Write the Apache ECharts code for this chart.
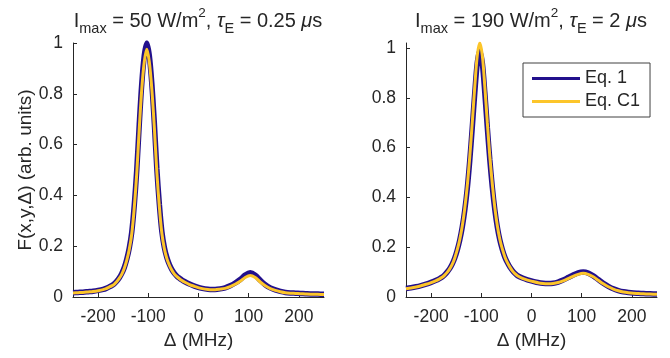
<!DOCTYPE html>
<html>
<head>
<meta charset="utf-8">
<script src="https://cdn.jsdelivr.net/npm/echarts@6.0.0/dist/echarts.min.js"></script>
<style>
  html, body { margin: 0; padding: 0; background: #fff; }
  #chart { width: 670px; height: 358px; }
</style>
</head>
<body>
<div id="chart"></div>
<script>
// detuning grid (MHz), shared by all four curves
const detuning = [-250, -240, -230, -220, -210, -200, -190, -184,
  -178, -173, -168, -163, -158, -153, -148, -143, -138, -133, -128, -123, -118, -113, -108, -103,
  -98, -93, -88, -83, -78, -73, -68, -63, -58, -53, -48, -43, -38, -33, -28,
  -18, -8, 3, 13, 23, 33, 43, 53, 63, 73, 83, 93, 103, 113, 123, 133, 143, 153, 163, 173, 183,
  193, 203, 213, 223, 233, 243, 250];

// left panel: Imax = 50 W/m^2, tauE = 0.25 us
const leftEq1 = [0.017, 0.018, 0.019, 0.021, 0.023, 0.026, 0.030, 0.034,
  0.040, 0.045, 0.052, 0.062, 0.075, 0.092, 0.115, 0.148, 0.192, 0.255, 0.360, 0.500, 0.680, 0.840, 0.950, 1.000,
  0.950, 0.840, 0.685, 0.505, 0.365, 0.258, 0.195, 0.155, 0.128, 0.108, 0.093, 0.082, 0.074, 0.067, 0.061,
  0.051, 0.043, 0.036, 0.032, 0.030, 0.030, 0.032, 0.036, 0.044, 0.055, 0.069, 0.086, 0.095, 0.086, 0.066, 0.048, 0.036, 0.028, 0.022, 0.018, 0.016,
  0.015, 0.014, 0.013, 0.012, 0.012, 0.011, 0.011];
const leftEqC1 = [0.016, 0.017, 0.018, 0.020, 0.022, 0.025, 0.029, 0.033,
  0.039, 0.044, 0.050, 0.060, 0.073, 0.089, 0.112, 0.144, 0.187, 0.248, 0.351, 0.487, 0.663, 0.819, 0.926, 0.975,
  0.926, 0.819, 0.668, 0.492, 0.356, 0.251, 0.190, 0.151, 0.125, 0.105, 0.090, 0.080, 0.072, 0.065, 0.059,
  0.049, 0.042, 0.035, 0.031, 0.029, 0.029, 0.031, 0.034, 0.041, 0.050, 0.062, 0.077, 0.085, 0.077, 0.059, 0.044, 0.033, 0.026, 0.021, 0.017, 0.015,
  0.014, 0.013, 0.012, 0.011, 0.011, 0.010, 0.010];

// right panel: Imax = 190 W/m^2, tauE = 2 us
const rightEq1 = [0.034, 0.037, 0.041, 0.046, 0.052, 0.059, 0.067, 0.073,
  0.080, 0.089, 0.100, 0.114, 0.132, 0.156, 0.188, 0.228, 0.280, 0.348, 0.435, 0.548, 0.680, 0.820, 0.940, 0.990,
  0.940, 0.820, 0.680, 0.550, 0.440, 0.350, 0.280, 0.228, 0.190, 0.160, 0.138, 0.120, 0.106, 0.095, 0.086,
  0.076, 0.069, 0.063, 0.058, 0.055, 0.054, 0.055, 0.060, 0.068, 0.078, 0.088, 0.097, 0.100, 0.096, 0.085, 0.070, 0.055, 0.043, 0.033, 0.026, 0.021,
  0.018, 0.016, 0.015, 0.014, 0.013, 0.012, 0.012];
const rightEqC1 = [0.033, 0.036, 0.040, 0.045, 0.051, 0.058, 0.066, 0.072,
  0.079, 0.088, 0.099, 0.113, 0.131, 0.156, 0.189, 0.230, 0.284, 0.355, 0.446, 0.563, 0.700, 0.845, 0.970, 1.020,
  0.970, 0.845, 0.700, 0.565, 0.452, 0.358, 0.285, 0.231, 0.192, 0.161, 0.138, 0.120, 0.105, 0.094, 0.085,
  0.075, 0.068, 0.062, 0.057, 0.054, 0.053, 0.054, 0.058, 0.065, 0.074, 0.083, 0.091, 0.095, 0.091, 0.081, 0.067, 0.053, 0.041, 0.032, 0.025, 0.020,
  0.017, 0.015, 0.014, 0.013, 0.012, 0.011, 0.011];

const xTicks = [-200, -100, 0, 100, 200];
const yTicks = [0, 0.2, 0.4, 0.6, 0.8, 1];
const seriesNames = ["Eq. 1", "Eq. C1"];

const FONT = "'Liberation Sans', Arial, Helvetica, sans-serif";
const INK = "#262626";
const BLUE = "#22108c";
const YELLOW = "#fcc52a";

const pairs = (ys) => detuning.map((d, i) => [d, ys[i]]);

const titleRich = {
  n: { fontSize: 20, fontFamily: FONT, fontWeight: "normal", color: INK, lineHeight: 30 },
  it: { fontSize: 20, fontFamily: FONT, fontWeight: "normal", color: INK, lineHeight: 30, fontStyle: "italic" },
  sub: { fontSize: 14.5, fontFamily: FONT, fontWeight: "normal", color: INK, lineHeight: 16, verticalAlign: "bottom" },
  sup: { fontSize: 13.5, fontFamily: FONT, fontWeight: "normal", color: INK, lineHeight: 20, verticalAlign: "top" },
};

function xAxisFor(gridIndex) {
  return {
    type: "value",
    gridIndex,
    min: -250,
    max: 250,
    name: "Δ (MHz)",
    nameLocation: "middle",
    nameGap: 33,
    nameTextStyle: { fontSize: 19, fontFamily: FONT, color: INK },
    axisLine: { onZero: false, lineStyle: { color: INK, width: 1 } },
    axisTick: { inside: true, length: 4, customValues: xTicks, lineStyle: { color: INK } },
    axisLabel: { customValues: xTicks, margin: 11, fontSize: 17.5, fontFamily: FONT, color: INK },
    splitLine: { show: false },
  };
}

function yAxisFor(gridIndex, max, name) {
  return {
    type: "value",
    gridIndex,
    min: 0,
    max,
    name,
    nameLocation: "middle",
    nameGap: 29,
    nameTextStyle: { fontSize: 19, fontFamily: FONT, color: INK },
    axisLine: { show: true, onZero: false, lineStyle: { color: INK, width: 1 } },
    axisTick: { show: true, inside: true, length: 4, customValues: yTicks, lineStyle: { color: INK } },
    axisLabel: { customValues: yTicks, margin: 10, fontSize: 17.5, fontFamily: FONT, color: INK },
    splitLine: { show: false },
  };
}

function lineSeries(name, ys, axisIndex, color, width) {
  return {
    name,
    type: "line",
    xAxisIndex: axisIndex,
    yAxisIndex: axisIndex,
    data: pairs(ys),
    smooth: 0.3,
    symbol: "none",
    color,
    lineStyle: { color, width },
    animation: false,
  };
}

const chart = echarts.init(document.getElementById("chart"));

chart.setOption({
  backgroundColor: "#fff",
  animation: false,
  title: [
    {
      text: "{n|I}{sub|max}{n| = 50 W/m}{sup|2}{n|, }{it|τ}{sub|E}{n| = 0.25 }{it|μ}{n|s}",
      left: 198, top: 6, padding: 0, textAlign: "center",
      textStyle: { fontWeight: "normal", rich: titleRich },
    },
    {
      text: "{n|I}{sub|max}{n| = 190 W/m}{sup|2}{n|, }{it|τ}{sub|E}{n| = 2 }{it|μ}{n|s}",
      left: 531, top: 6, padding: 0, textAlign: "center",
      textStyle: { fontWeight: "normal", rich: titleRich },
    },
  ],
  grid: [
    { left: 73, top: 43, width: 251, height: 254 },
    { left: 406, top: 43, width: 251, height: 254 },
  ],
  xAxis: [xAxisFor(0), xAxisFor(1)],
  yAxis: [yAxisFor(0, 1, "F(x,y,Δ) (arb. units)"), yAxisFor(1, 1.02, "")],
  legend: {
    data: seriesNames,
    orient: "vertical",
    left: 523,
    top: 63,
    padding: [6, 10, 6, 9],
    itemGap: 4,
    itemWidth: 48,
    itemHeight: 3,
    icon: "rect",
    borderColor: "#404040",
    borderWidth: 1,
    backgroundColor: "#fff",
    textStyle: { fontSize: 18, fontFamily: FONT, color: INK, lineHeight: 19 },
  },
  series: [
    lineSeries(seriesNames[0], leftEq1, 0, BLUE, 5.5),
    lineSeries(seriesNames[1], leftEqC1, 0, YELLOW, 3),
    lineSeries(seriesNames[0], rightEq1, 1, BLUE, 5.5),
    lineSeries(seriesNames[1], rightEqC1, 1, YELLOW, 3),
  ],
});
</script>
</body>
</html>
